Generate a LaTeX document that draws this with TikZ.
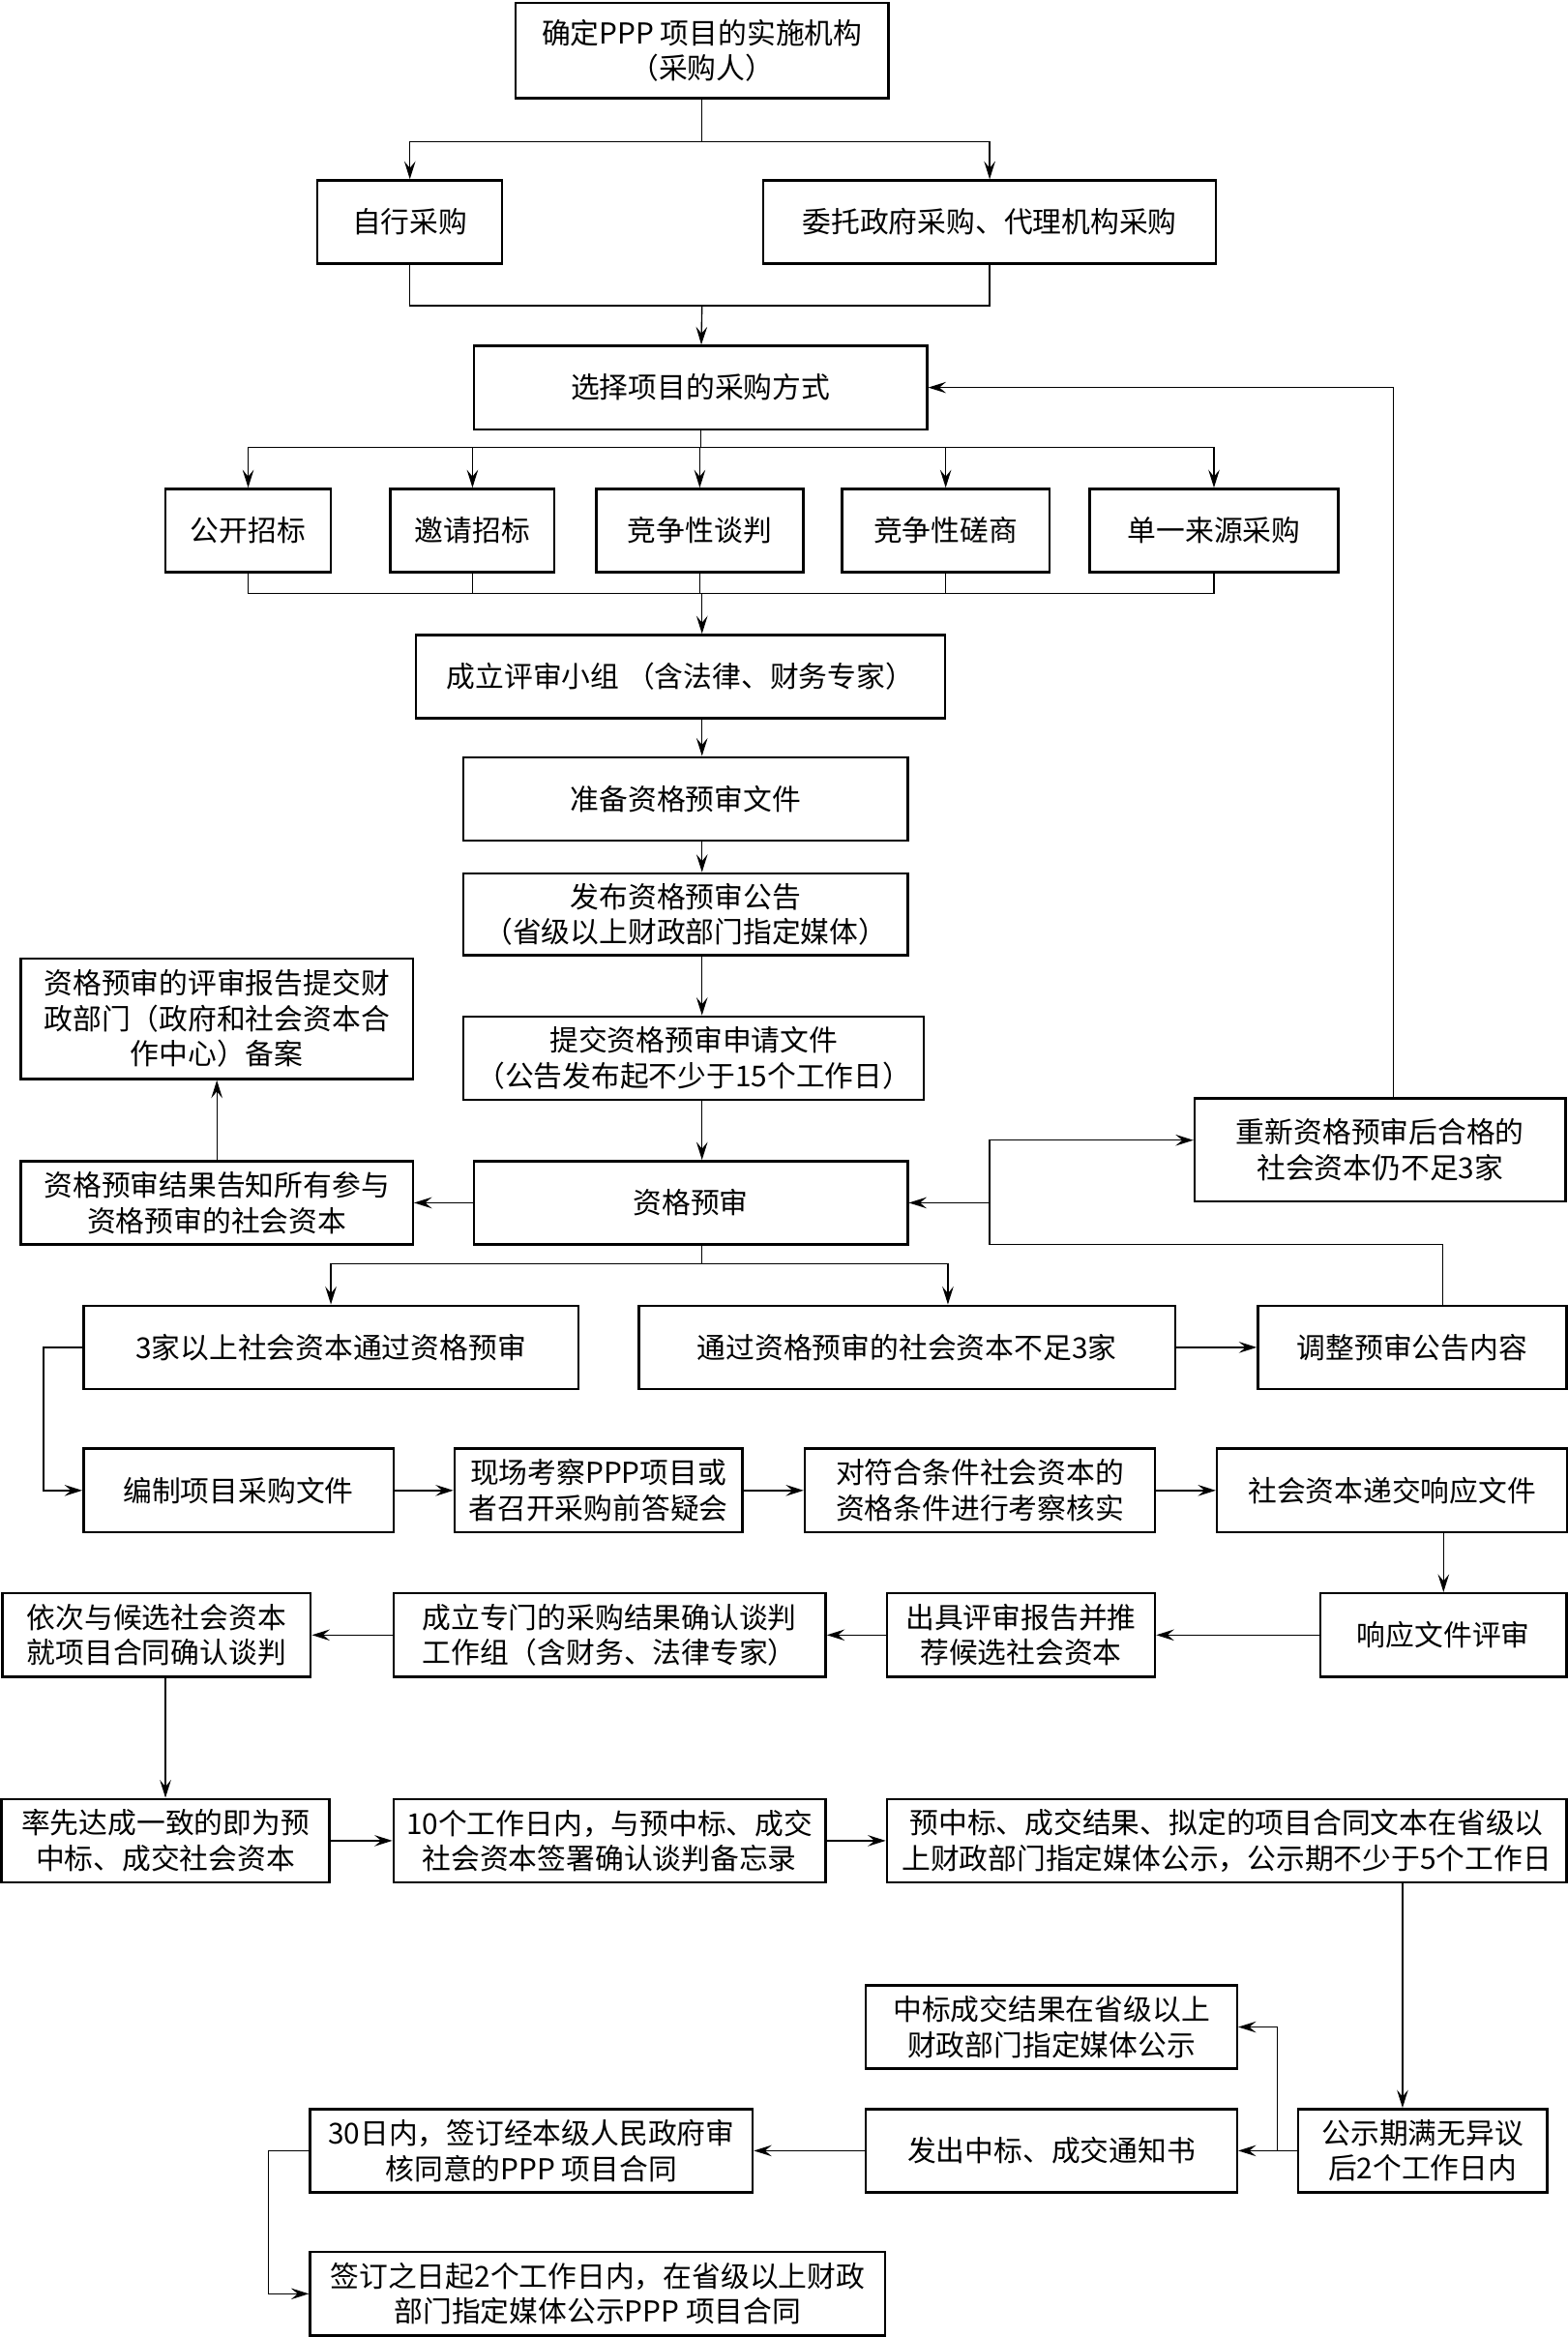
\documentclass[tikz,border=0pt]{standalone}
\usepackage{fontspec}
\setmainfont{Noto Sans CJK SC}
\usetikzlibrary{arrows.meta}

\tikzset{
  box/.style={draw, line width=0.9pt, align=center, inner sep=2pt, minimum height=1.12cm},
}

\begin{document}
\begin{tikzpicture}[x=0.02cm, y=-0.02cm, line width=0.5pt,
    >={Stealth[length=2.4mm,width=1.5mm,inset=0.9mm]},
    font=\fontsize{11pt}{13.5pt}\selectfont]
  \useasboundingbox (0,0) rectangle (1052,1568);

  % selection of the procurement way
  \node[box, minimum width=5cm, minimum height=1.28cm] (top) at (471,34) {确定PPP 项目的实施机构\\（采购人）};
  \node[box, minimum width=2.48cm] (self) at (275,149) {自行采购};
  \node[box, minimum width=6.08cm] (agent) at (664,149) {委托政府采购、代理机构采购};
  \node[box, minimum width=6.08cm] (sel) at (470,260) {选择项目的采购方式};
  \node[box, minimum width=2.22cm] (m1) at (166.5,356) {公开招标};
  \node[box, minimum width=2.2cm] (m2) at (317,356) {邀请招标};
  \node[box, minimum width=2.78cm] (m3) at (469.5,356) {竞争性谈判};
  \node[box, minimum width=2.78cm] (m4) at (634.5,356) {竞争性磋商};
  \node[box, minimum width=3.34cm] (m5) at (814.5,356) {单一来源采购};

  % prequalification
  \node[box, minimum width=7.1cm] (panel) at (456.5,454) {成立评审小组 （含法律、财务专家）};
  \node[box, minimum width=5.96cm] (prep) at (460,536) {准备资格预审文件};
  \node[box, minimum width=5.96cm, minimum height=1.1cm] (publish) at (460,613.5) {发布资格预审公告\\（省级以上财政部门指定媒体）};
  \node[box, minimum width=6.18cm] (submit) at (465.5,710) {提交资格预审申请文件\\（公告发布起不少于15个工作日）};
  \node[box, minimum width=5.82cm] (review) at (463.5,807) {资格预审};
  \node[box, minimum width=5.26cm, minimum height=1.62cm] (filing) at (145.5,683.5) {资格预审的评审报告提交财\\政部门（政府和社会资本合\\作中心）备案};
  \node[box, minimum width=5.26cm] (notify) at (145.5,807) {资格预审结果告知所有参与\\资格预审的社会资本};
  \node[box, minimum width=4.98cm, minimum height=1.38cm] (retry) at (926,771.5) {重新资格预审后合格的\\社会资本仍不足3家};
  \node[box, minimum width=6.64cm] (pass) at (222,904) {3家以上社会资本通过资格预审};
  \node[box, minimum width=7.2cm] (short) at (608.5,904) {通过资格预审的社会资本不足3家};
  \node[box, minimum width=4.14cm] (adjust) at (947.5,904) {调整预审公告内容};

  % procurement and negotiation
  \node[box, minimum width=4.16cm] (compile) at (160,1000) {编制项目采购文件};
  \node[box, minimum width=3.86cm] (visit) at (401.5,1000) {现场考察PPP项目或\\者召开采购前答疑会};
  \node[box, minimum width=4.7cm] (verify) at (657.5,1000) {对符合条件社会资本的\\资格条件进行考察核实};
  \node[box, minimum width=4.7cm] (submitresp) at (934,1000) {社会资本递交响应文件};
  \node[box, minimum width=3.3cm] (evalresp) at (968.5,1097) {响应文件评审};
  \node[box, minimum width=3.6cm] (report) at (685,1097) {出具评审报告并推\\荐候选社会资本};
  \node[box, minimum width=5.8cm] (team) at (409,1097) {成立专门的采购结果确认谈判\\工作组（含财务、法律专家）};
  \node[box, minimum width=4.14cm] (negotiate) at (105,1097) {依次与候选社会资本\\就项目合同确认谈判};
  \node[box, minimum width=4.4cm] (first) at (111,1235) {率先达成一致的即为预\\中标、成交社会资本};
  \node[box, minimum width=5.8cm] (memo) at (409,1235) {10个工作日内，与预中标、成交\\社会资本签署确认谈判备忘录};
  \node[box, minimum width=9.12cm] (publicity) at (823,1235) {预中标、成交结果、拟定的项目合同文本在省级以\\上财政部门指定媒体公示，公示期不少于5个工作日};

  % award and contract
  \node[box, minimum width=4.98cm] (media) at (705.5,1360) {中标成交结果在省级以上\\财政部门指定媒体公示};
  \node[box, minimum width=3.34cm] (expire) at (954.5,1443) {公示期满无异议\\后2个工作日内};
  \node[box, minimum width=4.98cm] (notice) at (705.5,1443) {发出中标、成交通知书};
  \node[box, minimum width=5.94cm] (sign) at (356.5,1443) {30日内，签订经本级人民政府审\\核同意的PPP 项目合同};
  \node[box, minimum width=7.72cm] (disclose) at (401,1539) {签订之日起2个工作日内，在省级以上财政\\部门指定媒体公示PPP 项目合同};

  \coordinate (spine) at (471,0);
  \coordinate (j1) at (471,95);
  \coordinate (j2) at (471,205);
  \coordinate (j3) at (470,300);
  \coordinate (j4) at (471,398);
  \coordinate (j5) at (664,835);
  \coordinate (j6) at (664,807);
  \coordinate (j7) at (471,848);
  \coordinate (j8) at (857,1443);
  \coordinate (c1) at ([xshift=0.18cm]retry.north);
  \coordinate (c2) at ([xshift=0.41cm]adjust.north);
  \coordinate (c3) at ([xshift=0.55cm]short.north);
  \coordinate (c4) at ([xshift=-0.27cm]expire.north);
  \coordinate (c5) at ([yshift=0.13cm]retry.west);

  \draw (top) -- (j1);
  \draw[->] (j1) -| (self);
  \draw[->] (j1) -| (agent);
  \draw (self) |- (j2);
  \draw (agent) |- (j2);
  \draw[->] (j2) -- (sel);
  \draw (sel) -- (j3);
  \foreach \m in {m1,m2,m3,m4,m5} {
    \draw[->] (j3) -| (\m);
    \draw (\m) |- (j4);
  }
  \draw[->] (j4) -- (j4 |- panel.north);
  \draw[->] (panel.south -| spine) -- (prep.north -| spine);
  \draw[->] (prep.south -| spine) -- (publish.north -| spine);
  \draw[->] (publish.south -| spine) -- (submit.north -| spine);
  \draw[->] (submit.south -| spine) -- (review.north -| spine);
  \draw[->] (review) -- (notify);
  \draw[->] (notify) -- (filing);
  \draw[->] (c1) |- (sel);
  \draw (c2) |- (j5) -- (j6);
  \draw[->] (j6) |- (c5);
  \draw[->] (j6) -- (review);
  \draw (review.south -| spine) -- (j7);
  \draw[->] (j7) -| (pass);
  \draw[->] (j7) -| (c3);
  \draw[->] (short) -- (adjust);
  \draw[->] (pass.west) -- ++(-26,0) |- (compile);
  \draw[->] (compile) -- (visit);
  \draw[->] (visit) -- (verify);
  \draw[->] (verify) -- (submitresp);
  \draw[->] (submitresp.south -| evalresp) -- (evalresp);
  \draw[->] (evalresp) -- (report);
  \draw[->] (report) -- (team);
  \draw[->] (team) -- (negotiate);
  \draw[->] (negotiate.south -| first) -- (first);
  \draw[->] (first) -- (memo);
  \draw[->] (memo) -- (publicity);
  \draw[->] (c4 |- publicity.south) -- (c4);
  \draw[->] (expire) -- (notice);
  \draw[->] (j8) |- (media);
  \draw[->] (notice) -- (sign);
  \draw[->] (sign.west) -- ++(-27,0) |- (disclose);
\end{tikzpicture}
\end{document}
